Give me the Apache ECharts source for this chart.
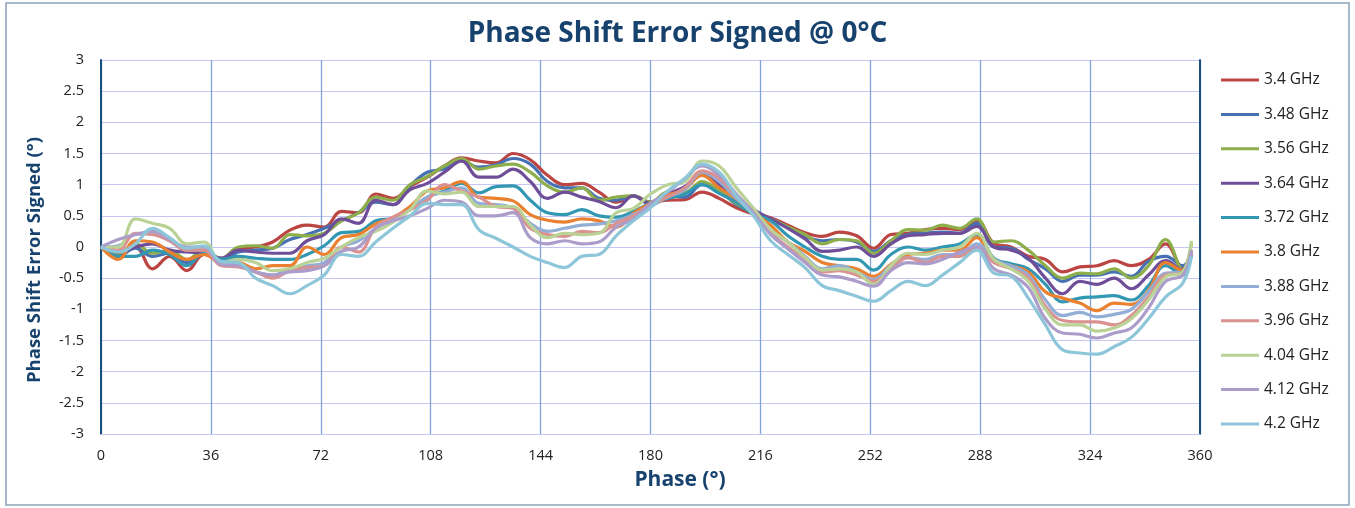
<!DOCTYPE html>
<html>
<head>
<meta charset="utf-8">
<script src="https://cdn.jsdelivr.net/npm/echarts@6/dist/echarts.min.js"></script>
<style>
  html, body { margin: 0; padding: 0; background: #fff; }
  #chart { width: 1355px; height: 508px; }
</style>
</head>
<body>
<div id="chart"></div>
<script>
// phase states (deg)
var phases = [0, 5.625, 11.25, 16.875, 22.5, 28.125, 33.75, 39.375, 45, 50.625, 56.25, 61.875,
  67.5, 73.125, 78.75, 84.375, 90, 95.625, 101.25, 106.875, 112.5, 118.125, 123.75, 129.375,
  135, 140.625, 146.25, 151.875, 157.5, 163.125, 168.75, 174.375, 180, 185.625, 191.25, 196.875,
  202.5, 208.125, 213.75, 219.375, 225, 230.625, 236.25, 241.875, 247.5, 253.125, 258.75, 264.375,
  270, 275.625, 281.25, 286.875, 292.5, 298.125, 303.75, 309.375, 315, 320.625, 326.25, 331.875,
  337.5, 343.125, 348.75, 354.375, 357.1875];

var freqNames = ['3.4 GHz', '3.48 GHz', '3.56 GHz', '3.64 GHz', '3.72 GHz', '3.8 GHz',
  '3.88 GHz', '3.96 GHz', '4.04 GHz', '4.12 GHz', '4.2 GHz'];

var err3p40 = [0, -0.13, 0.0, -0.35, -0.15, -0.38, -0.12, -0.22, -0.02, 0.0, 0.08, 0.27, 0.35, 0.32,
  0.57, 0.55, 0.85, 0.78, 0.97, 1.12, 1.3, 1.43, 1.38, 1.35, 1.5, 1.4,
  1.15, 1.0, 1.02, 0.88, 0.72, 0.82, 0.72, 0.75, 0.76, 0.88, 0.78, 0.63, 0.53,
  0.47, 0.35, 0.23, 0.17, 0.24, 0.18, -0.02, 0.2, 0.22, 0.28, 0.3, 0.28, 0.42,
  0.06, 0.0, -0.15, -0.2, -0.4, -0.32, -0.3, -0.22, -0.3, -0.2, 0.05, -0.35, -0.05];
var err3p48 = [0, -0.15, -0.02, -0.15, -0.1, -0.25, -0.08, -0.22, -0.08, -0.05, -0.02, 0.12, 0.2, 0.3,
  0.42, 0.55, 0.72, 0.68, 0.98, 1.2, 1.25, 1.38, 1.28, 1.32, 1.42, 1.33,
  1.05, 0.95, 0.95, 0.78, 0.75, 0.82, 0.68, 0.82, 0.8, 1.0, 0.9, 0.68, 0.55,
  0.45, 0.32, 0.17, 0.1, 0.12, 0.08, -0.07, 0.1, 0.2, 0.22, 0.24, 0.22, 0.38,
  0.0, -0.02, -0.2, -0.35, -0.55, -0.45, -0.45, -0.4, -0.47, -0.23, -0.15, -0.3, -0.12];
var err3p56 = [0, -0.1, 0.05, -0.1, -0.05, -0.2, -0.05, -0.18, 0.0, 0.02, -0.02, 0.2, 0.18, 0.22,
  0.42, 0.55, 0.8, 0.75, 1.0, 1.13, 1.3, 1.42, 1.25, 1.3, 1.33, 1.2,
  0.98, 0.88, 0.95, 0.75, 0.8, 0.82, 0.72, 0.88, 0.88, 1.05, 0.9, 0.7, 0.55,
  0.45, 0.32, 0.2, 0.05, 0.12, 0.1, -0.1, 0.1, 0.28, 0.27, 0.35, 0.3, 0.45,
  0.08, 0.1, -0.05, -0.3, -0.5, -0.42, -0.43, -0.35, -0.5, -0.3, 0.12, -0.37, 0.06];
var err3p64 = [0, -0.08, 0.0, 0.05, -0.05, -0.08, -0.1, -0.18, -0.05, -0.08, -0.1, -0.1, 0.1, 0.2,
  0.45, 0.38, 0.75, 0.68, 0.92, 1.02, 1.2, 1.38, 1.12, 1.12, 1.25, 1.05,
  0.78, 0.88, 0.8, 0.73, 0.63, 0.82, 0.7, 0.85, 0.97, 1.18, 1.0, 0.77, 0.6,
  0.45, 0.3, 0.13, -0.07, -0.05, 0.0, -0.15, 0.05, 0.18, 0.2, 0.22, 0.22, 0.33,
  0.0, -0.05, -0.18, -0.5, -0.75, -0.55, -0.6, -0.5, -0.67, -0.45, -0.22, -0.37, -0.13];
var err3p72 = [0, -0.15, -0.15, -0.05, -0.12, -0.3, -0.1, -0.2, -0.15, -0.18, -0.2, -0.2, -0.12, 0.02,
  0.23, 0.25, 0.42, 0.46, 0.6, 0.8, 0.9, 1.02, 0.87, 0.97, 0.98, 0.75,
  0.55, 0.52, 0.6, 0.5, 0.48, 0.57, 0.7, 0.78, 0.85, 1.0, 0.86, 0.72, 0.53,
  0.42, 0.18, 0.0, -0.15, -0.2, -0.2, -0.37, -0.12, 0.0, -0.05, 0.0, 0.05, 0.2,
  -0.18, -0.27, -0.35, -0.6, -0.88, -0.82, -0.8, -0.78, -0.85, -0.62, -0.3, -0.45, -0.12];
var err3p80 = [0, -0.2, 0.1, 0.08, -0.08, -0.2, -0.12, -0.25, -0.25, -0.35, -0.3, -0.3, 0.0, -0.12,
  0.15, 0.2, 0.37, 0.47, 0.65, 0.9, 0.95, 1.05, 0.8, 0.78, 0.74, 0.52,
  0.43, 0.4, 0.45, 0.42, 0.32, 0.54, 0.7, 0.83, 0.93, 1.15, 0.95, 0.77, 0.55,
  0.35, 0.08, -0.07, -0.25, -0.3, -0.35, -0.47, -0.28, -0.12, -0.1, -0.05, -0.05, 0.15,
  -0.22, -0.3, -0.4, -0.72, -0.82, -0.9, -1.02, -0.9, -0.92, -0.7, -0.25, -0.38, -0.1];
var err3p88 = [0, 0.02, 0.2, 0.22, 0.1, -0.05, -0.05, -0.27, -0.28, -0.4, -0.45, -0.35, -0.3, -0.25,
  0.0, 0.1, 0.3, 0.45, 0.6, 0.8, 0.88, 0.95, 0.7, 0.68, 0.62, 0.38,
  0.25, 0.3, 0.35, 0.37, 0.42, 0.52, 0.65, 0.8, 0.92, 1.2, 1.05, 0.78, 0.53,
  0.25, 0.08, -0.15, -0.35, -0.3, -0.4, -0.52, -0.3, -0.17, -0.2, -0.12, -0.12, 0.05,
  -0.2, -0.3, -0.45, -0.85, -1.1, -1.05, -1.12, -1.08, -1.0, -0.72, -0.42, -0.4, -0.1];
var err3p96 = [0, -0.05, 0.22, 0.2, 0.1, -0.05, -0.05, -0.3, -0.32, -0.4, -0.5, -0.38, -0.33, -0.3,
  0.0, -0.08, 0.32, 0.48, 0.6, 0.75, 1.0, 0.9, 0.8, 0.65, 0.62, 0.3,
  0.2, 0.17, 0.25, 0.23, 0.38, 0.5, 0.68, 0.8, 0.95, 1.22, 1.1, 0.82, 0.55,
  0.22, 0.0, -0.2, -0.4, -0.38, -0.45, -0.55, -0.35, -0.17, -0.25, -0.15, -0.15, 0.0,
  -0.25, -0.35, -0.5, -0.95, -1.18, -1.2, -1.2, -1.25, -1.1, -0.8, -0.45, -0.42, -0.05];
var err4p04 = [0, 0.0, 0.45, 0.38, 0.3, 0.05, 0.08, -0.25, -0.2, -0.25, -0.38, -0.35, -0.25, -0.18,
  0.0, 0.15, 0.25, 0.4, 0.6, 0.9, 0.85, 0.88, 0.65, 0.65, 0.65, 0.35,
  0.15, 0.22, 0.2, 0.22, 0.55, 0.62, 0.85, 1.0, 1.05, 1.38, 1.3, 0.95, 0.62,
  0.28, 0.08, -0.17, -0.37, -0.35, -0.4, -0.6, -0.3, -0.1, -0.12, -0.05, 0.0, 0.22,
  -0.2, -0.35, -0.55, -1.0, -1.25, -1.25, -1.35, -1.3, -1.15, -0.85, -0.48, -0.4, 0.1];
var err4p12 = [0, 0.12, 0.2, 0.25, 0.12, 0.0, 0.0, -0.28, -0.3, -0.4, -0.45, -0.4, -0.38, -0.3,
  -0.07, 0.0, 0.3, 0.42, 0.5, 0.62, 0.75, 0.72, 0.5, 0.5, 0.55, 0.15,
  0.05, 0.1, 0.05, 0.08, 0.32, 0.45, 0.7, 0.88, 1.1, 1.3, 1.15, 0.85, 0.55,
  0.2, -0.03, -0.25, -0.45, -0.48, -0.55, -0.63, -0.38, -0.25, -0.27, -0.2, -0.08, 0.0,
  -0.35, -0.45, -0.65, -1.15, -1.38, -1.4, -1.46, -1.38, -1.3, -0.98, -0.55, -0.45, -0.05];
var err4p20 = [0, -0.08, 0.05, 0.3, 0.15, -0.02, 0.02, -0.23, -0.25, -0.5, -0.62, -0.75, -0.62, -0.45,
  -0.12, -0.15, 0.08, 0.3, 0.5, 0.7, 0.68, 0.68, 0.28, 0.14, 0.0, -0.15,
  -0.25, -0.33, -0.15, -0.12, 0.18, 0.42, 0.63, 0.9, 1.1, 1.33, 1.2, 0.82, 0.5,
  0.1, -0.12, -0.33, -0.62, -0.7, -0.79, -0.87, -0.7, -0.55, -0.62, -0.45, -0.25, -0.05,
  -0.42, -0.47, -0.82, -1.25, -1.65, -1.7, -1.72, -1.6, -1.45, -1.15, -0.8, -0.58, -0.15];

var allErrors = [err3p40, err3p48, err3p56, err3p64, err3p72, err3p80,
  err3p88, err3p96, err4p04, err4p12, err4p20];

var lineColors = ['#BB4542', '#4672B4', '#8DAE4A', '#6E4E98', '#3297B2', '#EA8130',
  '#93AED6', '#DA9290', '#BAD296', '#AC9CCA', '#8EC6D9'];

var navy = '#17426E';
var fontName = '"Open Sans", Lato, sans-serif';

var chart = echarts.init(document.getElementById('chart'));

var series = freqNames.map(function (name, i) {
  return {
    name: name,
    type: 'line',
    smooth: 0.4,
    showSymbol: false,
    lineStyle: { width: 3.2, color: lineColors[i] },
    itemStyle: { color: lineColors[i] },
    data: phases.map(function (p, k) { return [p, allErrors[i][k]]; })
  };
});

var option = {
  animation: false,
  backgroundColor: '#fff',
  textStyle: { fontFamily: fontName },
  title: {
    text: 'Phase Shift Error Signed @ 0°C',
    left: 'center',
    top: 15,
    textStyle: { color: navy, fontSize: 28, fontWeight: 'bold', fontFamily: fontName }
  },
  legend: {
    orient: 'vertical',
    left: 1216,
    top: 67,
    icon: 'rect',
    itemWidth: 38,
    itemHeight: 3,
    itemGap: 18.4,
    textStyle: { color: '#222', fontSize: 15.5, lineHeight: 16, fontFamily: fontName },
    data: freqNames
  },
  grid: { left: 101, right: 155, top: 60, bottom: 74, containLabel: false },
  xAxis: {
    type: 'value',
    min: 0,
    max: 360,
    interval: 36,
    axisLine: { onZero: false, lineStyle: { color: '#C6C6F2', width: 1 } },
    axisTick: { show: false },
    axisLabel: { color: '#222', fontSize: 14.5, margin: 14 },
    splitLine: { lineStyle: { color: '#7FA3DA', width: 1.3 } }
  },
  yAxis: [{
    type: 'value',
    min: -3,
    max: 3,
    interval: 0.5,
    axisLine: { show: true, lineStyle: { color: '#1B4F7E', width: 2 } },
    axisTick: { show: false },
    axisLabel: { color: '#222', fontSize: 14.5, margin: 17 },
    splitLine: { lineStyle: { color: '#C6C6F2', width: 1.2 } }
  }, {
    type: 'value',
    position: 'right',
    min: -3,
    max: 3,
    axisLine: { show: true, lineStyle: { color: '#1B4F7E', width: 2 } },
    axisTick: { show: false },
    axisLabel: { show: false },
    splitLine: { show: false }
  }],
  graphic: [{
    type: 'rect',
    shape: { x: 6, y: 3, width: 1343, height: 502 },
    style: { fill: 'none', stroke: '#8CA3BC', lineWidth: 1.5 },
    silent: true
  }, {
    type: 'text',
    x: 680,
    y: 480,
    style: {
      text: 'Phase (°)',
      fill: navy,
      font: 'bold 21px "Open Sans", Lato, sans-serif',
      textAlign: 'center',
      textVerticalAlign: 'middle'
    },
    silent: true
  }, {
    type: 'text',
    x: 35,
    y: 260,
    rotation: Math.PI / 2,
    style: {
      text: 'Phase Shift Error Signed (°)',
      fill: navy,
      font: 'bold 18.5px "Open Sans", Lato, sans-serif',
      textAlign: 'center',
      textVerticalAlign: 'middle'
    },
    silent: true
  }],
  series: series
};

chart.setOption(option);
</script>
</body>
</html>
